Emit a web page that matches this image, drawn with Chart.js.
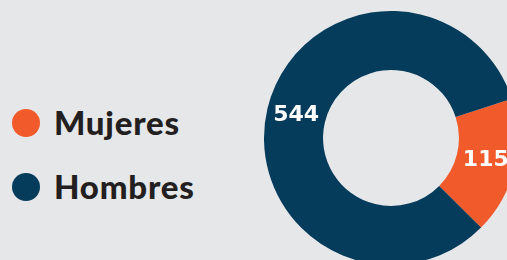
<!DOCTYPE html>
<html>
<head>
<meta charset="utf-8">
<script src="https://cdn.jsdelivr.net/npm/chart.js@4/dist/chart.umd.min.js"></script>
<style>
  html, body { margin: 0; padding: 0; width: 507px; height: 260px; overflow: hidden; background: #e6e7e9; }
  #legend { position: absolute; left: 12px; top: 104px; font-family: Lato, sans-serif; font-weight: 900; font-size: 33px; letter-spacing: 0.8px; color: #231f20; }
  #legend .item { height: 64px; display: flex; align-items: flex-start; }
  #legend .dot { width: 28px; height: 28px; border-radius: 50%; margin-top: 5px; margin-right: 14px; }
  #legend .txt { line-height: 36px; }
  #wrap { position: absolute; left: 264px; top: 11px; width: 254px; height: 254px; }
</style>
</head>
<body>
<div id="legend"></div>
<div id="wrap"><canvas id="pie"></canvas></div>
<script>
var labels = ['Mujeres', 'Hombres'];
var values = [115, 544];
var colors = ['#f15a2b', '#053b5b'];

// legend on the left
var legend = document.getElementById('legend');
labels.forEach(function(name, i) {
  var row = document.createElement('div');
  row.className = 'item';
  row.innerHTML = '<div class="dot" style="background:' + colors[i] + '"></div><div class="txt">' + name + '</div>';
  legend.appendChild(row);
});

// values written in the middle of each ring segment
var valueLabels = {
  id: 'valueLabels',
  afterDatasetsDraw: function(chart) {
    var ctx = chart.ctx;
    var meta = chart.getDatasetMeta(0);
    ctx.save();
    ctx.font = 'bold 22px "DejaVu Sans", sans-serif';
    ctx.fillStyle = '#ffffff';
    ctx.textAlign = 'center';
    ctx.textBaseline = 'middle';
    meta.data.forEach(function(arc, i) {
      var p = arc.tooltipPosition();
      ctx.fillText(String(values[i]), p.x, p.y);
    });
    ctx.restore();
  }
};

new Chart(document.getElementById('pie'), {
  type: 'doughnut',
  data: {
    labels: labels,
    datasets: [{
      data: values,
      backgroundColor: colors,
      hoverBackgroundColor: colors,
      borderWidth: 0
    }]
  },
  options: {
    responsive: true,
    maintainAspectRatio: false,
    animation: false,
    cutout: '53.5%',
    rotation: 72,
    layout: { padding: 0 },
    plugins: {
      legend: { display: false },
      tooltip: { enabled: false }
    }
  },
  plugins: [valueLabels]
});
</script>
</body>
</html>
